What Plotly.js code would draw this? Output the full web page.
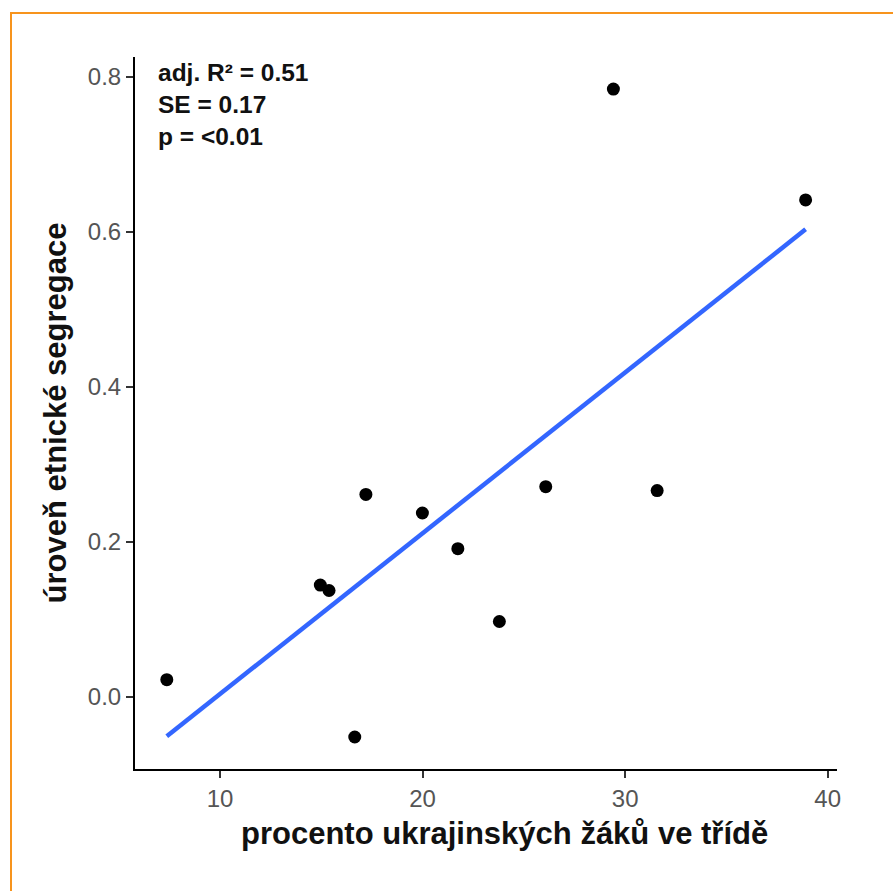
<!DOCTYPE html>
<html>
<head>
<meta charset="utf-8">
<script src="https://cdn.plot.ly/plotly-3.0.1.min.js"></script>
<style>
  html, body { margin: 0; padding: 0; background: #fff; }
  #wrap { position: relative; width: 893px; height: 891px; }
  #plot { position: absolute; left: 0; top: 0; width: 893px; height: 891px; }
  #frame { position: absolute; left: 10px; top: 12px; width: 900px; height: 900px;
           border-top: 2px solid #F7941D; border-left: 2px solid #F7941D; pointer-events: none; }
</style>
</head>
<body>
<div id="wrap">
  <div id="plot"></div>
  <div id="frame"></div>
</div>
<script>
// Data
const pctUkrainian = [7.37, 14.95, 15.38, 16.65, 17.20, 19.99, 21.74, 23.79, 26.08, 29.42, 31.58, 38.91];
const segregation  = [0.022, 0.144, 0.137, -0.052, 0.261, 0.237, 0.191, 0.097, 0.271, 0.784, 0.266, 0.641];
// Fitted regression line (endpoints as drawn)
const fitX = [7.37, 38.91];
const fitY = [-0.051, 0.603];
const xTicks = [10, 20, 30, 40];
const yTicks = [0.0, 0.2, 0.4, 0.6, 0.8];
const yTickLabels = ["0.0", "0.2", "0.4", "0.6", "0.8"];
const statsText = ["adj. R² = 0.51", "SE = 0.17", "p = <0.01"];
const xTitle = "procento ukrajinských žáků ve třídě";
const yTitle = "úroveň etnické segregace";

const font = "Liberation Sans, Arial, Helvetica, sans-serif";

const traces = [
  {
    x: fitX, y: fitY, type: "scatter", mode: "lines",
    line: { color: "#3366FF", width: 4.5 },
    hoverinfo: "skip", showlegend: false
  },
  {
    x: pctUkrainian, y: segregation, type: "scatter", mode: "markers",
    marker: { color: "#000000", size: 13 },
    showlegend: false
  }
];

const layout = {
  width: 893, height: 891,
  margin: { l: 135, r: 56, t: 57, b: 122 },
  paper_bgcolor: "rgba(0,0,0,0)",
  plot_bgcolor: "#ffffff",
  font: { family: font, color: "#000" },
  showlegend: false,
  xaxis: {
    range: [5.80, 40.46],
    tickvals: xTicks,
    ticktext: xTicks.map(String),
    showgrid: false, zeroline: false,
    showline: true, linecolor: "#000", linewidth: 2,
    ticks: "outside", ticklen: 7, tickwidth: 2, tickcolor: "#333",
    tickfont: { family: font, size: 24, color: "#555" }
  },
  yaxis: {
    range: [-0.0933, 0.8254],
    tickvals: yTicks,
    ticktext: yTickLabels,
    showgrid: false, zeroline: false,
    showline: true, linecolor: "#000", linewidth: 2,
    ticks: "outside", ticklen: 7, tickwidth: 2, tickcolor: "#333",
    tickfont: { family: font, size: 24, color: "#555" },
    title: { text: "<b>" + yTitle + "</b>", font: { family: font, size: 31, color: "#111" }, standoff: 12 }
  },
  annotations: [
    {
      xref: "paper", yref: "paper",
      x: (156 - 135) / 702, y: 1 - (57 - 57) / 712,
      xanchor: "left", yanchor: "top", align: "left", showarrow: false,
      text: "<b>" + statsText.join("<br>") + "</b>",
      font: { family: font, size: 24.5, color: "#111" }
    },
    {
      xref: "paper", yref: "paper",
      x: (504 - 135) / 702, y: -(834 - 769) / 712,
      xanchor: "center", yanchor: "middle", showarrow: false,
      text: "<b>" + xTitle + "</b>",
      font: { family: font, size: 31, color: "#111" }
    }
  ]
};

Plotly.newPlot("plot", traces, layout, { displayModeBar: false, staticPlot: true });
</script>
</body>
</html>
